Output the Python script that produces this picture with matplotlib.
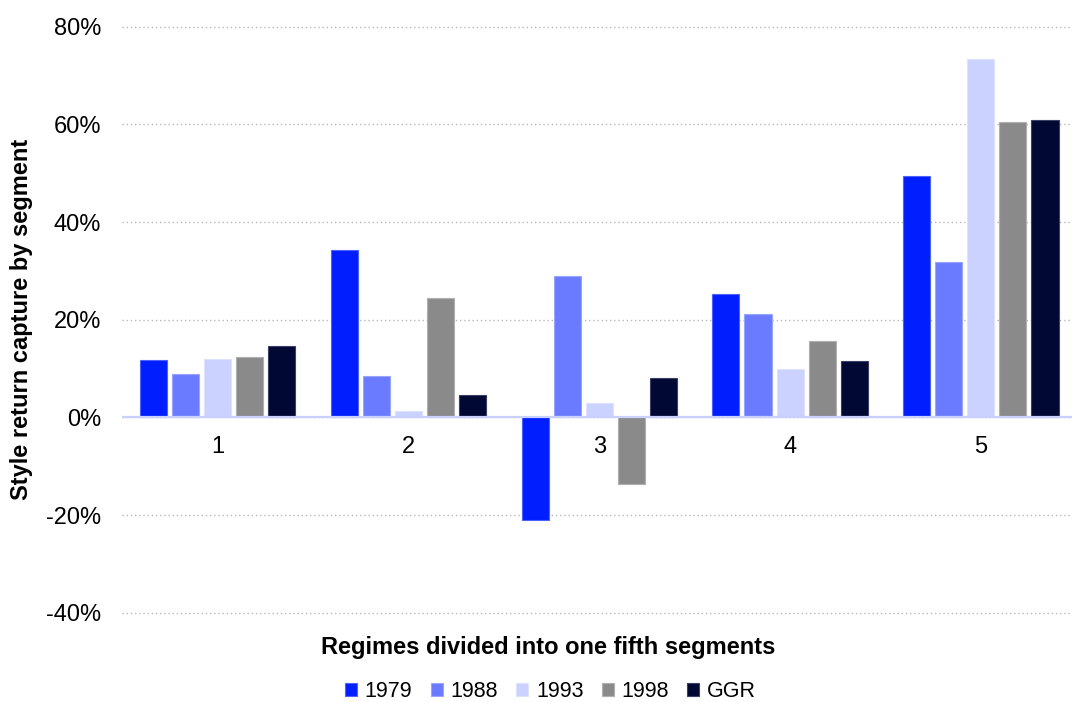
import numpy as np
import matplotlib.pyplot as plt
from matplotlib.ticker import FuncFormatter

plt.rcParams['font.family'] = ['Liberation Sans', 'DejaVu Sans']

segments = ['1', '2', '3', '4', '5']
series = ['1979', '1988', '1993', '1998', 'GGR']
v1979 = [11.7, 34.2, -20.9, 25.2, 49.5]
v1988 = [8.8, 8.4, 29.0, 21.1, 31.9]
v1993 = [11.9, 1.4, 2.9, 10.0, 73.4]
v1998 = [12.3, 24.5, -13.7, 15.7, 60.5]
vggr = [14.7, 4.5, 8.0, 11.5, 60.9]

colors = ['#001eff', '#6b7bff', '#cbd2ff', '#8a8a8a', '#000833']
edges = ['#4d62ff', '#9aa5ff', '#dde2ff', '#b0b0b0', '#3a4166']

fig = plt.figure(figsize=(10.72, 7.02), dpi=100)
ax = fig.add_axes([0.114, 0.127, 0.89, 0.835])

x = np.arange(len(segments))
pitch = 0.168
width = 0.142
for i, (name, vals) in enumerate(zip(series, [v1979, v1988, v1993, v1998, vggr])):
    ax.bar(x + (i - 2) * pitch, vals, width, color=colors[i], edgecolor=edges[i],
           linewidth=0.8, label=name, zorder=3)

ax.set_xlim(-0.5, 4.5)
ax.set_ylim(-40, 80)
ax.set_yticks(range(-40, 81, 20))
ax.yaxis.set_major_formatter(FuncFormatter(lambda v, p: f'{v:.0f}%'))
ax.grid(axis='y', linestyle=(0, (1, 2)), color='#b8b8b8', linewidth=1, zorder=0)
for gl in ax.get_ygridlines():
    gl.set_clip_on(False)
ax.axhline(0, color='#c8d0ff', linewidth=1.6, zorder=4)

ax.set_xticks(x)
ax.set_xticklabels([])
ax.tick_params(axis='both', length=0, labelsize=17)
ax.tick_params(axis='y', pad=15)
# category labels sit just under the zero line
for xi, s in zip(x, segments):
    ax.text(xi, -6, s, ha='center', va='center', fontsize=17)

for sp in ax.spines.values():
    sp.set_visible(False)

fig.text(0.020, 0.545, 'Style return capture by segment', rotation=90, ha='center',
         va='center', fontsize=17, fontweight='bold')
fig.text(0.511, 0.078, 'Regimes divided into one fifth segments', ha='center', va='center',
         fontsize=17, fontweight='bold')

ax.legend(loc='center', bbox_to_anchor=(0.449, -0.135), ncol=5, frameon=False,
          fontsize=15.5, handlelength=0.56, handleheight=0.56, handletextpad=0.37,
          columnspacing=0.84)

fig.savefig('out.png', dpi=100)
